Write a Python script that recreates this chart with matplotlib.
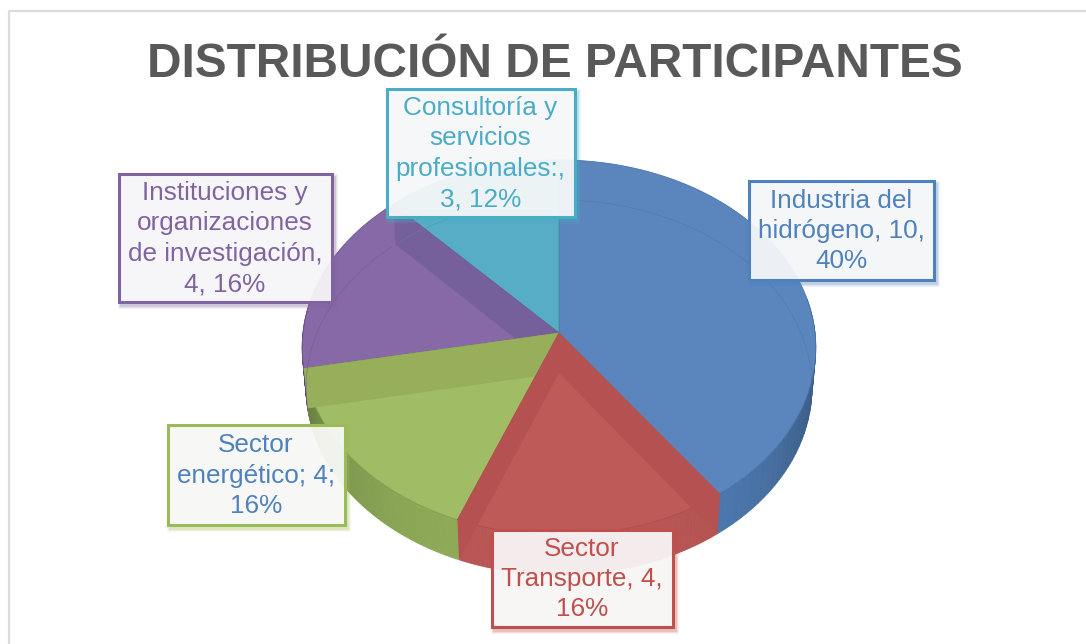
import numpy as np
import matplotlib
matplotlib.use("Agg")
import matplotlib.pyplot as plt
from matplotlib.patches import Polygon, Rectangle

plt.rcParams["font.family"] = ["Liberation Sans", "DejaVu Sans"]

# slices, clockwise from 12 o'clock
categories = ["Industria del hidrógeno", "Sector Transporte", "Sector energético",
              "Instituciones y organizaciones de investigación",
              "Consultoría y servicios profesionales"]
counts = [10, 4, 4, 4, 3]
title = "DISTRIBUCIÓN DE PARTICIPANTES"

top_colors = ["#5b86bd", "#bd5b59", "#a0bc64", "#8669a6", "#57acc6"]
side_colors = ["#4f7cb3", "#b85654", "#8fab58", "#7a5f9a", "#4c9db6"]
band_colors = [None, "#b55251", "#97ae5a", "#75609b", None]
edge_colors = ["#4a74a8", "#ad4d4b", "#84a04c", "#6c5590", "#4390a8"]

label_texts = ["Consultoría y\nservicios\nprofesionales:,\n3, 12%",
               "Industria del\nhidrógeno, 10,\n40%",
               "Instituciones y\norganizaciones\nde investigación,\n4, 16%",
               "Sector\nenergético; 4;\n16%",
               "Sector\nTransporte, 4,\n16%"]
label_text_colors = ["#4bacc6", "#4f81bd", "#8064a2", "#4f81bd", "#c0504d"]
label_edge_colors = ["#4bacc6", "#4f81bd", "#8064a2", "#9bbb59", "#c0504d"]
# left, top, right, bottom in pixels
label_boxes = [(385, 87, 576, 218), (747, 179, 935, 281), (117, 172, 333, 303),
               (166, 423, 346, 526), (490, 528, 674, 628)]

# pie geometry (pixels), slightly perspective so the apex sits above the ellipse centre
CX, CY = 559, 333
RX, RY, PERSP = 256, 186.4, 0.0773
DEPTH = 40
BOTTOM_SCALE = 0.985  # lower disc is a bit narrower


def proj(theta, r=1.0, lower=False):
    u = r * np.sin(theta)
    v = r * np.cos(theta)
    d = 1 + PERSP * v
    x = RX * u / d
    y = CY - RY * v / d
    if lower:
        return CX + x * BOTTOM_SCALE, y + DEPTH
    return CX + x, y


def arc(t0, t1, lower=False, n=120):
    x, y = proj(np.linspace(t0, t1, n), lower=lower)
    return np.column_stack([x, y])


def shade(col, f):
    return tuple(np.array(matplotlib.colors.to_rgb(col)) * f)


fig = plt.figure(figsize=(10.86, 6.44), dpi=100)
ax = fig.add_axes([0, 0, 1, 1])
ax.set_xlim(0, 1086)
ax.set_ylim(644, 0)
ax.axis("off")

# chart area frame: only top and left reach inside the crop
ax.plot([1086, 9, 9], [11, 11, 644], color="#dcdcdc", lw=1.6, zorder=1)

edges = 2 * np.pi * np.concatenate([[0], np.cumsum(counts)]) / np.sum(counts)
apex = np.array(proj(0.0, r=0.0))

# outer side of the cylinder
for i in range(len(counts)):
    ts = np.linspace(edges[i], edges[i + 1], 70)
    for a, b in zip(ts[:-1], ts[1:]):
        if np.cos((a + b) / 2) > 0.2:
            continue
        top = arc(a, b, n=3)
        bot = arc(a, b, lower=True, n=3)
        f = 1 - 0.28 * abs(np.sin((a + b) / 2)) ** 4
        c = shade(side_colors[i], f)
        ax.add_patch(Polygon(np.vstack([top, bot[::-1]]), fc=c, ec=c, lw=0.6, zorder=2))

# top face, back slices first; inner walls show through the near slices
z = 3.0
for i in [0, 4, 3, 2, 1]:
    a, b = edges[i], edges[i + 1]
    pts = np.vstack([apex, arc(a, b)])
    ax.add_patch(Polygon(pts, fc=top_colors[i], ec=edge_colors[i], lw=0.6, zorder=z))
    z += 0.01
    if band_colors[i] is None:
        continue
    # slices that have a neighbour further back get a darker wall along that edge
    walls = {1: [a, b], 2: [b], 3: [b]}[i]
    for t in walls:
        e = np.array(proj(t))
        e_low = np.array(proj(t, lower=True))
        wall = np.array([apex, e, e_low, apex + [0, DEPTH]])
        ax.add_patch(Polygon(wall, fc=band_colors[i], ec="none", zorder=z))
        z += 0.01

# faint far rim of the lower disc seen through the top
for t0, t1, c in [(0.0, 1.75, edge_colors[0]), (edges[4] + 0.02, 2 * np.pi, edge_colors[4]),
                  (edges[3] + 0.04, edges[4] - 0.02, edge_colors[3])]:
    rim = arc(t0, t1, lower=True)
    ax.plot(rim[:, 0], rim[:, 1], color=c, lw=0.6, alpha=0.5, zorder=3.9)

# data labels
for txt, tc, ec, (l, t, r, b) in zip(label_texts, label_text_colors, label_edge_colors, label_boxes):
    for grow, al in [(2, 0.08), (1, 0.12), (0, 0.2)]:
        ax.add_patch(Rectangle((l + 3 - grow, t + 4 - grow), r - l + 2 * grow, b - t + 2 * grow,
                               fc=ec, ec="none", alpha=al, zorder=5))
    ax.add_patch(Rectangle((l + 1.5, t + 1.5), r - l - 3, b - t - 3, fc=(0.98, 0.98, 0.98),
                           ec="none", alpha=0.92, zorder=6))
    ax.add_patch(Rectangle((l + 1.5, t + 1.5), r - l - 3, b - t - 3, fill=False, ec=ec, lw=2.2, zorder=7))
    ax.text((l + r) / 2, (t + b) / 2 + 1, txt, color=tc, fontsize=18.8, ha="center", va="center",
            linespacing=1.34, multialignment="center", zorder=8)

ax.text(555, 77, title, color="#595959", fontsize=34.4, fontweight="bold", ha="center",
        va="baseline", zorder=8)

fig.savefig("out.png", dpi=100)
